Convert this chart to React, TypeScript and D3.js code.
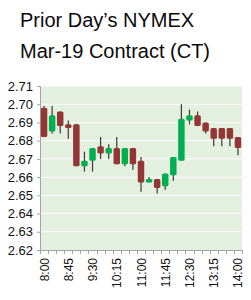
import React, { useEffect, useRef } from 'react';
import * as d3 from 'd3';

// 15-minute bars, 8:00 - 14:00
const times = [
  '8:00', '8:15', '8:30', '8:45', '9:00', '9:15', '9:30', '9:45', '10:00',
  '10:15', '10:30', '10:45', '11:00', '11:15', '11:30', '11:45', '12:00',
  '12:15', '12:30', '12:45', '13:00', '13:15', '13:30', '13:45', '14:00',
];
const opens = [
  2.698, 2.685, 2.696, 2.689, 2.689, 2.666, 2.669, 2.677, 2.673, 2.676, 2.667,
  2.676, 2.669, 2.657, 2.659, 2.655, 2.661, 2.669, 2.691, 2.694, 2.69, 2.687,
  2.687, 2.687, 2.682,
];
const highs = [
  2.699, 2.699, 2.696, 2.691, 2.689, 2.674, 2.676, 2.682, 2.678, 2.682, 2.676,
  2.676, 2.671, 2.66, 2.659, 2.662, 2.671, 2.7, 2.697, 2.696, 2.69, 2.687,
  2.687, 2.687, 2.682,
];
const lows = [
  2.682, 2.684, 2.684, 2.681, 2.666, 2.663, 2.663, 2.67, 2.67, 2.667, 2.666,
  2.664, 2.652, 2.657, 2.651, 2.653, 2.658, 2.669, 2.689, 2.688, 2.684, 2.677,
  2.677, 2.677, 2.672,
];
const closes = [
  2.682, 2.694, 2.688, 2.687, 2.666, 2.669, 2.676, 2.673, 2.676, 2.667, 2.676,
  2.667, 2.657, 2.659, 2.654, 2.662, 2.671, 2.692, 2.694, 2.688, 2.685, 2.681,
  2.681, 2.681, 2.676,
];
const yTicks = [2.62, 2.63, 2.64, 2.65, 2.66, 2.67, 2.68, 2.69, 2.7, 2.71];
const xLabels = ['8:00', '8:45', '9:30', '10:15', '11:00', '11:45', '12:30', '13:15', '14:00'];

const W = 251;
const H = 300;

export default function App() {
  const svgRef = useRef<SVGSVGElement>(null);

  useEffect(() => {
    if (!svgRef.current) return;
    const svg = d3.select(svgRef.current);
    svg.selectAll('*').remove();

    const margin = { top: 86, right: 9, bottom: 50, left: 40 };
    const plotW = W - margin.left - margin.right;
    const plotH = H - margin.top - margin.bottom;

    const data = times.map((t, i) => ({
      t,
      o: opens[i],
      h: highs[i],
      l: lows[i],
      c: closes[i],
    }));

    // Title
    svg
      .append('text')
      .attr('x', 20)
      .attr('y', 27)
      .attr('font-family', 'Liberation Sans, Arial, sans-serif')
      .attr('font-size', '20px')
      .attr('fill', '#0a0a0a')
      .text('Prior Day’s NYMEX');
    svg
      .append('text')
      .attr('x', 20)
      .attr('y', 57.5)
      .attr('font-family', 'Liberation Sans, Arial, sans-serif')
      .attr('font-size', '20px')
      .attr('fill', '#0a0a0a')
      .text('Mar-19 Contract (CT)');

    const g = svg
      .append('g')
      .attr('transform', `translate(${margin.left},${margin.top})`);

    const x = d3.scaleBand().domain(times).range([0, plotW]);
    const y = d3.scaleLinear().domain([2.62, 2.71]).range([plotH, 0]);

    // Plot background
    g.append('rect')
      .attr('width', plotW)
      .attr('height', plotH)
      .attr('fill', '#e3efdf');

    // Gridlines
    g.selectAll('.grid')
      .data(yTicks.slice(1))
      .enter()
      .append('line')
      .attr('x1', 0)
      .attr('x2', plotW)
      .attr('y1', (d) => y(d))
      .attr('y2', (d) => y(d))
      .attr('stroke', '#ffffff')
      .attr('stroke-width', 1);

    // Y axis
    const yAxis = g
      .append('g')
      .call(
        d3
          .axisLeft(y)
          .tickValues(yTicks)
          .tickSize(3)
          .tickPadding(4)
          .tickFormat(d3.format('.2f'))
      );
    yAxis.select('.domain').attr('stroke', '#a6a6a6');
    yAxis.selectAll('line').attr('stroke', '#a6a6a6');
    yAxis
      .selectAll('text')
      .attr('font-family', 'Liberation Sans, Arial, sans-serif')
      .attr('font-size', '13px')
      .attr('fill', '#111');

    // X axis line and ticks at band edges
    g.append('line')
      .attr('x1', 0)
      .attr('x2', plotW)
      .attr('y1', plotH + 0.5)
      .attr('y2', plotH + 0.5)
      .attr('stroke', '#a6a6a6');
    const edges = times.map((t) => x(t) as number).concat([plotW]);
    g.selectAll('.xtick')
      .data(edges)
      .enter()
      .append('line')
      .attr('x1', (d) => Math.round(d) + 0.5)
      .attr('x2', (d) => Math.round(d) + 0.5)
      .attr('y1', plotH)
      .attr('y2', plotH + 4)
      .attr('stroke', '#a6a6a6');

    // X labels (rotated)
    g.selectAll('.xlabel')
      .data(xLabels)
      .enter()
      .append('text')
      .attr(
        'transform',
        (d) =>
          `translate(${(x(d) as number) + x.bandwidth() / 2 + 4.5},${plotH + 8}) rotate(-90)`
      )
      .attr('text-anchor', 'end')
      .attr('font-family', 'Liberation Sans, Arial, sans-serif')
      .attr('font-size', '12px')
      .attr('fill', '#111')
      .text((d) => d);

    // Candles
    const bw = x.bandwidth() * 0.8;
    const candles = g
      .selectAll('.candle')
      .data(data)
      .enter()
      .append('g')
      .attr('class', 'candle');

    candles
      .append('line')
      .attr('x1', (d) => (x(d.t) as number) + x.bandwidth() / 2)
      .attr('x2', (d) => (x(d.t) as number) + x.bandwidth() / 2)
      .attr('y1', (d) => y(d.h))
      .attr('y2', (d) => y(d.l))
      .attr('stroke', '#3a3a3a')
      .attr('stroke-width', 1.2);

    candles
      .append('rect')
      .attr('x', (d) => (x(d.t) as number) + (x.bandwidth() - bw) / 2)
      .attr('y', (d) => y(Math.max(d.o, d.c)))
      .attr('width', bw)
      .attr('height', (d) => Math.max(2, Math.abs(y(d.o) - y(d.c))))
      .attr('rx', 1.5)
      .attr('fill', (d) => (d.c >= d.o ? '#00b050' : '#943634'));
  }, []);

  return (
    <svg
      ref={svgRef}
      width={W}
      height={H}
      style={{ position: 'absolute', left: 0, top: 0, background: '#fff' }}
    />
  );
}
